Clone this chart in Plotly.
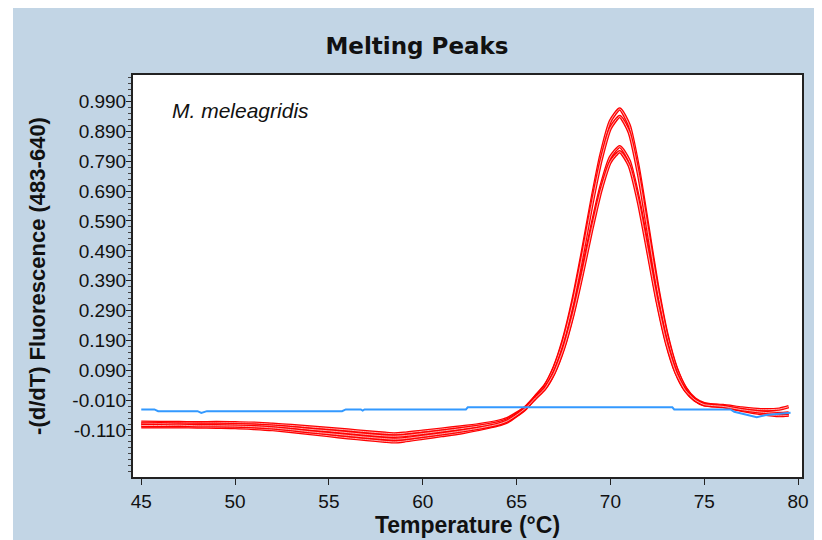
import plotly.graph_objects as go

# ---------------- data ----------------
TEMP = [45, 46, 47, 48, 49, 50, 51, 52, 53, 54, 55, 56, 57, 58, 58.5, 59, 60, 61, 62, 63,
        64, 64.5, 65, 65.5, 66, 66.5, 67, 67.5, 68, 68.5, 69, 69.5, 70, 70.5, 71, 71.5,
        72, 72.5, 73, 73.5, 74, 74.5, 75, 76, 77, 78, 79, 79.5]

RED_A = [-0.099, -0.099, -0.099, -0.100, -0.101, -0.102, -0.105, -0.109, -0.115, -0.122,
         -0.129, -0.136, -0.142, -0.148, -0.150, -0.147, -0.138, -0.129, -0.120, -0.108,
         -0.094, -0.083, -0.062, -0.037, 0.002, 0.038, 0.100, 0.195, 0.325, 0.485,
         0.658, 0.814, 0.925, 0.965, 0.911, 0.766, 0.572, 0.376, 0.214, 0.100,
         0.031, -0.006, -0.022, -0.030, -0.040, -0.052, -0.058, -0.058]
RED_B = [-0.084, -0.085, -0.085, -0.086, -0.085, -0.086, -0.087, -0.091, -0.095, -0.100,
         -0.105, -0.110, -0.116, -0.121, -0.123, -0.121, -0.114, -0.107, -0.100, -0.092,
         -0.081, -0.072, -0.054, -0.032, 0.001, 0.036, 0.097, 0.189, 0.316, 0.472,
         0.641, 0.793, 0.901, 0.940, 0.887, 0.746, 0.557, 0.366, 0.208, 0.097,
         0.029, -0.008, -0.024, -0.028, -0.036, -0.042, -0.040, -0.032]
RED_C = [-0.090, -0.089, -0.090, -0.091, -0.091, -0.092, -0.094, -0.097, -0.102, -0.108,
         -0.113, -0.119, -0.125, -0.130, -0.131, -0.129, -0.122, -0.114, -0.106, -0.097,
         -0.086, -0.076, -0.057, -0.034, -0.003, 0.029, 0.083, 0.166, 0.280, 0.420,
         0.571, 0.707, 0.804, 0.839, 0.792, 0.665, 0.496, 0.324, 0.183, 0.083,
         0.023, -0.010, -0.026, -0.032, -0.044, -0.055, -0.062, -0.060]
RED_D = [-0.095, -0.095, -0.094, -0.096, -0.096, -0.097, -0.099, -0.103, -0.109, -0.116,
         -0.122, -0.128, -0.134, -0.139, -0.141, -0.139, -0.131, -0.123, -0.114, -0.104,
         -0.091, -0.080, -0.060, -0.036, -0.003, 0.028, 0.081, 0.162, 0.274, 0.411,
         0.559, 0.693, 0.788, 0.822, 0.776, 0.651, 0.485, 0.317, 0.178, 0.081,
         0.022, -0.009, -0.025, -0.031, -0.042, -0.050, -0.055, -0.053]

BLUE_T = [45.0, 45.7, 45.9, 48.0, 48.2, 48.5, 55.7, 55.9, 56.7, 56.8, 56.9, 62.3, 62.4,
          73.3, 73.4, 76.4, 76.6, 77.2, 77.8, 78.3, 78.9, 79.6]
BLUE_V = [-0.041, -0.041, -0.047, -0.047, -0.053, -0.047, -0.047, -0.041, -0.041, -0.045,
          -0.041, -0.041, -0.034, -0.034, -0.041, -0.041, -0.049, -0.058, -0.067, -0.060,
          -0.056, -0.052]

Y_TICKS = [-0.11, -0.01, 0.09, 0.19, 0.29, 0.39, 0.49, 0.59, 0.69, 0.79, 0.89, 0.99]
Y_TICK_TEXT = ["-0.110", "-0.010", "0.090", "0.190", "0.290", "0.390", "0.490",
               "0.590", "0.690", "0.790", "0.890", "0.990"]
X_TICKS = [45, 50, 55, 60, 65, 70, 75, 80]

TITLE = "Melting Peaks"
X_TITLE = "Temperature (°C)"
Y_TITLE = "-(d/dT) Fluorescence (483-640)"
SPECIES = "M. meleagridis"

# ---------------- figure ----------------
BG = "#c2d5e5"
RED = "#ff0000"
BLUE = "#3399ff"

W, H = 814, 532          # page body has an 8px margin
L, R, T, B = 125, 20, 67, 63
PW, PH = W - L - R, H - T - B

fig = go.Figure()

for vals in [RED_A, RED_B, RED_C, RED_D]:
    fig.add_trace(go.Scatter(x=TEMP, y=vals, mode="lines",
                             line=dict(color=RED, width=3.4, shape="spline", smoothing=0.6),
                             hoverinfo="skip", showlegend=False))
    fig.add_trace(go.Scatter(x=TEMP, y=vals, mode="lines",
                             line=dict(color="#ffd8d8", width=0.8, shape="spline", smoothing=0.6),
                             hoverinfo="skip", showlegend=False))

fig.add_trace(go.Scatter(x=BLUE_T, y=BLUE_V, mode="lines",
                         line=dict(color=BLUE, width=2),
                         hoverinfo="skip", showlegend=False))

axis_font = dict(family="Liberation Sans, Arial, sans-serif", size=19, color="#111")

fig.update_layout(
    width=W, height=H,
    margin=dict(l=L, r=R, t=T, b=B, autoexpand=False),
    paper_bgcolor=BG,
    plot_bgcolor="white",
    title=dict(text=TITLE, x=409 / W, xanchor="center", y=1 - 38 / H, yanchor="middle",
               font=dict(family="DejaVu Sans", size=23, color="#111", weight="bold")),
    xaxis=dict(range=[44.56, 80.21], tickvals=X_TICKS, ticks="outside", ticklen=6,
               tickcolor="#222", tickfont=axis_font, showline=True, linecolor="#222",
               linewidth=2, mirror=True, showgrid=False, zeroline=False,
               title=dict(text=X_TITLE, standoff=4,
                          font=dict(family="Liberation Sans, Arial, sans-serif", size=23,
                                    color="#111", weight="bold"))),
    yaxis=dict(range=[-0.2675, 1.079], tickvals=Y_TICKS, ticktext=Y_TICK_TEXT,
               ticks="outside", ticklen=5, tickcolor="#222", tickfont=axis_font,
               ticklabelstandoff=-4,
               showline=True, linecolor="#222", linewidth=2, mirror=True,
               showgrid=False, zeroline=False,
               minor=dict(tick0=-0.11, dtick=0.02, ticks="outside", ticklen=3,
                          tickcolor="#444", showgrid=False),
               title=dict(text=Y_TITLE, standoff=21,
                          font=dict(family="Liberation Sans, Arial, sans-serif", size=22,
                                    color="#111", weight="bold"))),
    shapes=[
        dict(type="rect", xref="paper", yref="paper", x0=-0.3, x1=(5 - L) / PW,
             y0=-0.3, y1=1.3, fillcolor="white", line=dict(width=0), layer="below"),
    ],
    annotations=[
        dict(text=SPECIES, xref="paper", yref="paper", x=(162 - L) / PW, y=(H - B - 102) / PH,
             xanchor="left", yanchor="middle", showarrow=False,
             font=dict(family="Liberation Sans, Arial, sans-serif", size=21, color="#111",
                       style="italic")),
    ],
)

fig.write_html("out.html")
